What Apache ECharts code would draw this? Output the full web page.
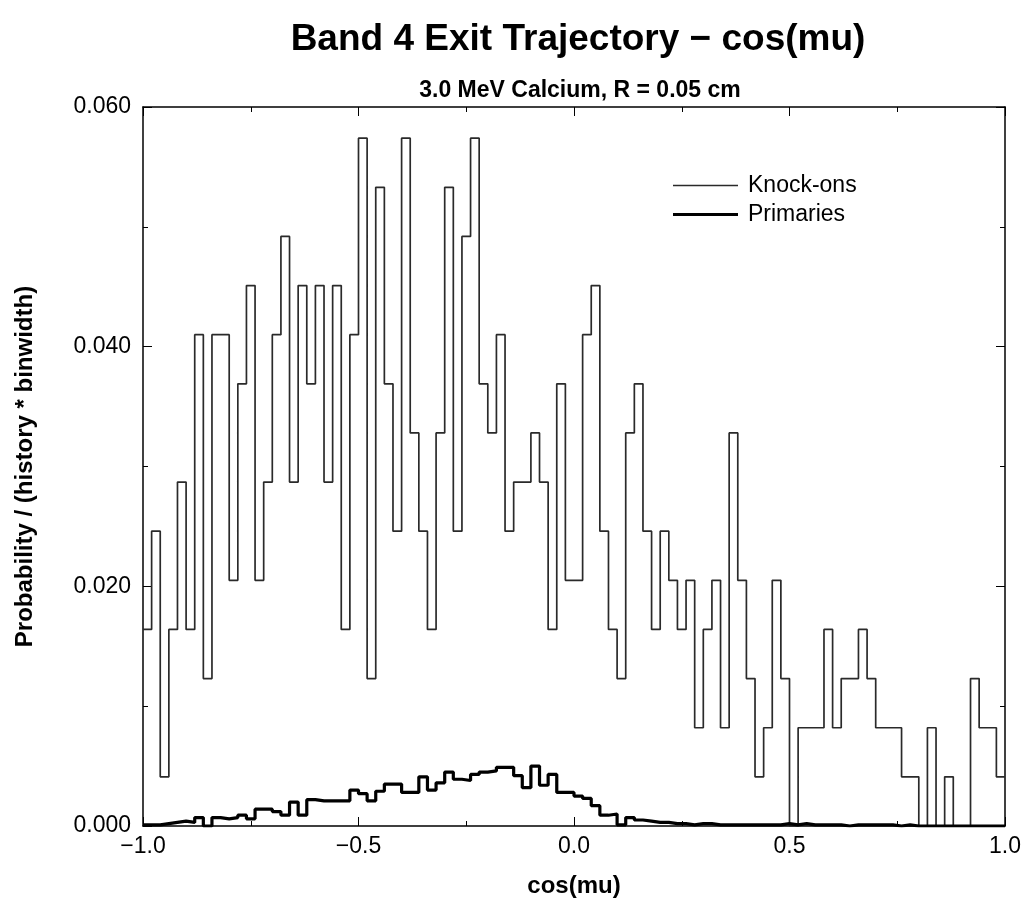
<!DOCTYPE html>
<html>
<head>
<meta charset="utf-8">
<title>Band 4 Exit Trajectory - cos(mu)</title>
<script src="https://cdn.jsdelivr.net/npm/echarts@6/dist/echarts.min.js"></script>
<style>
  html, body { margin: 0; padding: 0; background: #fff; }
  #chart { width: 1028px; height: 903px; }
</style>
</head>
<body>
<div id="chart"></div>
<script>
// Histogram binning on cos(mu): 100 bins of width 0.02 from -1.0 to 1.0
const binStart = -1.0;
const binWidth = 0.02;

// Knock-on probability per bin
const knockOns = [
  0.0164, 0.0246, 0.0041, 0.0164, 0.0287, 0.0164, 0.0410, 0.0123, 0.0410, 0.0410,
  0.0205, 0.0369, 0.0451, 0.0205, 0.0287, 0.0410, 0.0492, 0.0287, 0.0451, 0.0369,
  0.0451, 0.0287, 0.0451, 0.0164, 0.0410, 0.0574, 0.0123, 0.0533, 0.0369, 0.0246,
  0.0574, 0.0328, 0.0246, 0.0164, 0.0328, 0.0533, 0.0246, 0.0492, 0.0574, 0.0369,
  0.0328, 0.0410, 0.0246, 0.0287, 0.0287, 0.0328, 0.0287, 0.0164, 0.0369, 0.0205,
  0.0205, 0.0410, 0.0451, 0.0246, 0.0164, 0.0123, 0.0328, 0.0369, 0.0246, 0.0164,
  0.0246, 0.0205, 0.0164, 0.0205, 0.0082, 0.0164, 0.0205, 0.0082, 0.0328, 0.0205,
  0.0123, 0.0041, 0.0082, 0.0205, 0.0123, 0.0000, 0.0082, 0.0082, 0.0082, 0.0164,
  0.0082, 0.0123, 0.0123, 0.0164, 0.0123, 0.0082, 0.0082, 0.0082, 0.0041, 0.0041,
  0.0000, 0.0082, 0.0000, 0.0041, 0.0000, 0.0000, 0.0123, 0.0082, 0.0082, 0.0041
];

// Primary-ion probability per bin
const primaries = [
  0.0001, 0.0001, 0.0002, 0.0003, 0.0004, 0.0003, 0.0007, 0.0000, 0.0007, 0.0006,
  0.0007, 0.0009, 0.0006, 0.0014, 0.0014, 0.0012, 0.0009, 0.0020, 0.0009, 0.0022,
  0.0021, 0.0021, 0.0021, 0.0021, 0.0030, 0.0027, 0.0021, 0.0029, 0.0035, 0.0035,
  0.0028, 0.0028, 0.0041, 0.0030, 0.0036, 0.0045, 0.0039, 0.0038, 0.0043, 0.0045,
  0.0046, 0.0049, 0.0049, 0.0042, 0.0032, 0.0050, 0.0034, 0.0043, 0.0028, 0.0028,
  0.0025, 0.0023, 0.0017, 0.0009, 0.0010, 0.0001, 0.0007, 0.0005, 0.0004, 0.0003,
  0.0003, 0.0002, 0.0002, 0.0001, 0.0002, 0.0002, 0.0001, 0.0001, 0.0001, 0.0001,
  0.0001, 0.0001, 0.0001, 0.0001, 0.0002, 0.0001, 0.0002, 0.0001, 0.0001, 0.0001,
  0.0001, 0.0000, 0.0001, 0.0001, 0.0001, 0.0001, 0.0001, 0.0000, 0.0001, 0.0000,
  0.0000, 0.0000, 0.0000, 0.0000, 0.0000, 0.0000, 0.0000, 0.0000, 0.0000, 0.0000
];

// Axis ticks
const xTicks = { min: -1.0, max: 1.0, interval: 0.5 };
const yTicks = { min: 0.0, max: 0.06, interval: 0.02 };

const FONT = "'Liberation Sans', Arial, Helvetica, sans-serif";

// Turn per-bin values into [leftEdge, value] pairs, closing at the right edge
function histPairs(values) {
  const pts = values.map((v, i) => [binStart + i * binWidth, v]);
  pts.push([binStart + values.length * binWidth, values[values.length - 1]]);
  return pts;
}

function xLabel(v) {
  return (v < 0 ? '\u2212' : '') + Math.abs(v).toFixed(1);
}

const chart = echarts.init(document.getElementById('chart'), null, { renderer: 'canvas' });

// Shared style for the four sides of the plot frame
const frameAxis = {
  axisLine: { show: true, onZero: false, lineStyle: { color: '#000', width: 1.5 } },
  axisTick: { show: true, inside: true, length: 9, lineStyle: { color: '#000', width: 1 } },
  minorTick: { show: true, splitNumber: 2, length: 5, lineStyle: { color: '#000', width: 1 } },
  splitLine: { show: false }
};

chart.setOption({
  animation: false,
  backgroundColor: '#fff',
  title: [
    {
      text: 'Band 4 Exit Trajectory \u2212 cos(mu)',
      left: 573, top: 16, textAlign: 'center',
      textStyle: { fontFamily: FONT, fontSize: 37, fontWeight: 'bold', color: '#000' }
    },
    {
      text: '3.0 MeV Calcium, R = 0.05 cm',
      left: 575, top: 74, textAlign: 'center',
      textStyle: { fontFamily: FONT, fontSize: 23, fontWeight: 'bold', color: '#000' }
    }
  ],
  legend: [
    {
      data: ['Knock-ons'],
      left: 668, top: 169,
      icon: 'rect', itemWidth: 65, itemHeight: 1.5,
      textStyle: { fontFamily: FONT, fontSize: 23, color: '#000', padding: [0, 0, 0, 5] }
    },
    {
      data: ['Primaries'],
      left: 668, top: 198,
      icon: 'rect', itemWidth: 65, itemHeight: 3,
      textStyle: { fontFamily: FONT, fontSize: 23, color: '#000', padding: [0, 0, 0, 5] }
    }
  ],
  grid: { left: 143, right: 23, top: 107, bottom: 76, containLabel: false },
  xAxis: [
    Object.assign({}, frameAxis, {
      type: 'value', position: 'bottom',
      min: xTicks.min, max: xTicks.max, interval: xTicks.interval,
      name: 'cos(mu)', nameLocation: 'middle', nameGap: 48,
      nameTextStyle: { fontFamily: FONT, fontSize: 24, fontWeight: 'bold', color: '#000' },
      axisLabel: { formatter: xLabel, margin: 9, fontFamily: FONT, fontSize: 23, color: '#000' }
    }),
    Object.assign({}, frameAxis, {
      type: 'value', position: 'top',
      min: xTicks.min, max: xTicks.max, interval: xTicks.interval,
      axisLabel: { show: false }
    })
  ],
  yAxis: [
    Object.assign({}, frameAxis, {
      type: 'value', position: 'left',
      min: yTicks.min, max: yTicks.max, interval: yTicks.interval,
      name: 'Probability / (history * binwidth)', nameLocation: 'middle', nameGap: 106,
      nameTextStyle: { fontFamily: FONT, fontSize: 24, fontWeight: 'bold', color: '#000' },
      axisLabel: { formatter: v => v.toFixed(3), margin: 12, fontFamily: FONT, fontSize: 23, color: '#000' }
    }),
    Object.assign({}, frameAxis, {
      type: 'value', position: 'right',
      min: yTicks.min, max: yTicks.max, interval: yTicks.interval,
      axisLabel: { show: false }
    })
  ],
  series: [
    {
      name: 'Knock-ons', type: 'line', step: 'end',
      data: histPairs(knockOns),
      showSymbol: false, symbol: 'none',
      color: '#2a2a2a',
      lineStyle: { color: '#2a2a2a', width: 1.7 },
      z: 3
    },
    {
      name: 'Primaries', type: 'line', step: 'end',
      data: histPairs(primaries),
      showSymbol: false, symbol: 'none',
      color: '#000',
      lineStyle: { color: '#000', width: 3.2 },
      z: 4
    }
  ]
});
</script>
</body>
</html>
